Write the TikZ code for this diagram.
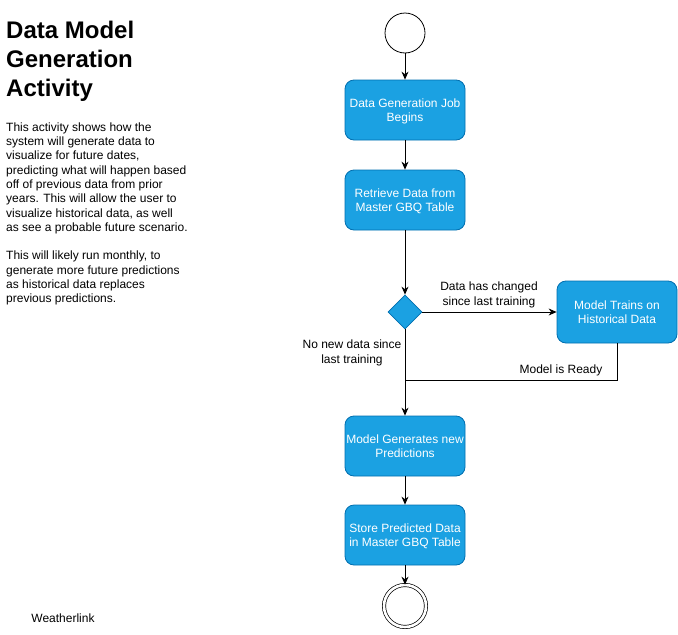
\documentclass[tikz,border=0pt]{standalone}
\usepackage{fontspec}
\setmainfont{Liberation Sans}
\usetikzlibrary{shapes.geometric,arrows.meta}
\definecolor{boxfill}{HTML}{1BA1E2}
\definecolor{boxline}{HTML}{006EAF}
\begin{document}
\begin{tikzpicture}[x=1pt,y=-1pt,
  txt/.style={font=\fontsize{12}{14.5}\selectfont},
  act/.style={txt, draw=boxline, fill=boxfill, rounded corners=9pt, minimum width=120pt, minimum height=60pt, text=white, align=center, inner sep=1pt, text depth=0pt, line width=0.8pt},
  dec/.style={diamond, draw=boxline, fill=boxfill, minimum width=34pt, minimum height=34pt, inner sep=0pt, line width=0.8pt},
  flow/.style={draw, line width=0.8pt, -{Stealth[length=8pt,width=7pt]}},
  plain/.style={draw, line width=0.8pt},
  lbl/.style={txt, align=center, inner sep=0pt},
  para/.style={anchor=north west, inner sep=0pt, align=left, font=\fontsize{12}{14.3}\selectfont}]
\useasboundingbox (0,0) rectangle (678,635);
% left text
\node[anchor=north west, inner sep=0pt, align=left, font=\bfseries\fontsize{24}{29}\selectfont] (title) at (6,20.5) {Data Model\\Generation\\Activity};
\node[para] (desc1) at (6,122.5) {This activity shows how the\\system will generate data to\\visualize for future dates,\\predicting what will happen based\\off of previous data from prior\\years. This will allow the user to\\visualize historical data, as well\\as see a probable future scenario.};
\node[para] (desc2) at (6,251) {This will likely run monthly, to\\generate more future predictions\\as historical data replaces\\previous predictions.};
\node[lbl] (brand) at (63,618) {Weatherlink};
% flow
\node[circle, draw, line width=0.8pt, minimum size=40pt, inner sep=0pt] (start) at (405,33) {};
\node[act] (b1) at (405,110) {Data Generation Job\\Begins};
\node[act] (b2) at (405,200) {Retrieve Data from\\Master GBQ Table};
\node[dec] (d) at (405,312) {};
\node[act, minimum height=62pt] (b3) at (617,312) {Model Trains on\\Historical Data};
\node[act] (b4) at (405,446) {Model Generates new\\Predictions};
\node[act] (b5) at (405,535) {Store Predicted Data\\in Master GBQ Table};
\node[circle, draw, line width=0.7pt, double, double distance=2.6pt, minimum size=42pt, inner sep=0pt] (end) at (405,606) {};
\coordinate (j) at (405,380);
\draw[flow] (start) -- (b1);
\draw[flow] (b1) -- (b2);
\draw[flow] (b2) -- (d);
\draw[flow] (d) -- (b3);
\draw[plain] (b3.south) |- (j);
\draw[flow] (d) -- (b4);
\draw[flow] (b4) -- (b5);
\draw[flow] (b5) -- (end);
\node[lbl] (l1) at (489,295) {Data has changed\\since last training};
\node[lbl] (l2) at (352,353) {No new data since\\last training};
\node[lbl] (l3) at (561,370) {Model is Ready};
\end{tikzpicture}
\end{document}
